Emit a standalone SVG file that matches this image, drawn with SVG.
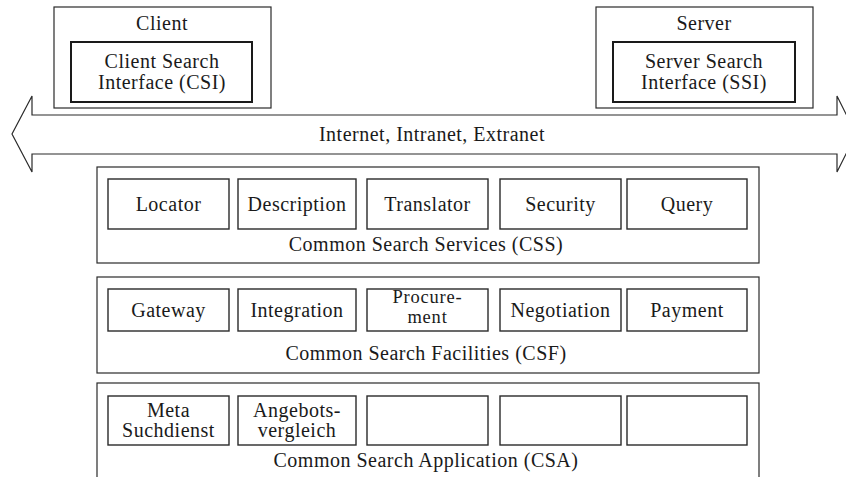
<svg xmlns="http://www.w3.org/2000/svg" width="846" height="477" viewBox="0 0 846 477">
  <style>
    .frame { fill: #ffffff; stroke: #2a2a2a; stroke-width: 1.2; }
    .box { fill: #ffffff; stroke: #2a2a2a; stroke-width: 1.4; }
    .iface { fill: #ffffff; stroke: #1a1a1a; stroke-width: 2; }
    .bus { fill: #ffffff; stroke: #2a2a2a; stroke-width: 1.2; }
    text { font-family: "Liberation Serif", "Times New Roman", serif; font-size: 20px; letter-spacing: 0.5px; fill: #1a1a1a; text-anchor: middle; }
    text.two { font-size: 18.5px; letter-spacing: 0.8px; }
  </style>

  <!-- Network bus: double-headed arrow -->
  <g id="connectors">
    <path class="bus" d="M32,115 L837,115 L837,96 L856,134 L837,172 L837,154 L32,154 L32,172 L12,134 L32,96 Z"/>
    <text x="432" y="141">Internet, Intranet, Extranet</text>
  </g>

  <!-- Client -->
  <g id="client">
    <rect class="frame" x="54" y="7" width="217" height="101"/>
    <text x="162" y="30">Client</text>
  </g>
  <g id="csi">
    <rect class="iface" x="71" y="42" width="181" height="60"/>
    <text x="162" y="68">Client Search</text>
    <text x="162" y="89">Interface (CSI)</text>
  </g>

  <!-- Server -->
  <g id="server">
    <rect class="frame" x="596" y="7" width="217" height="101"/>
    <text x="704" y="30">Server</text>
  </g>
  <g id="ssi">
    <rect class="iface" x="613" y="42" width="182" height="60"/>
    <text x="704" y="68">Server Search</text>
    <text x="704" y="89">Interface (SSI)</text>
  </g>

  <!-- Common Search Services -->
  <g id="css">
    <rect class="frame" x="97" y="167" width="662" height="96"/>
    <text x="426" y="251">Common Search Services (CSS)</text>
  </g>
  <g id="locator"><rect class="box" x="108" y="179" width="121" height="50"/><text x="168.5" y="211">Locator</text></g>
  <g id="description"><rect class="box" x="238" y="179" width="118" height="50"/><text x="297" y="211">Description</text></g>
  <g id="translator"><rect class="box" x="367" y="179" width="121" height="50"/><text x="427.5" y="211">Translator</text></g>
  <g id="security"><rect class="box" x="500" y="179" width="121" height="50"/><text x="560.5" y="211">Security</text></g>
  <g id="query"><rect class="box" x="627" y="179" width="120" height="50"/><text x="687" y="211">Query</text></g>

  <!-- Common Search Facilities -->
  <g id="csf">
    <rect class="frame" x="97" y="277" width="662" height="96"/>
    <text x="426" y="360">Common Search Facilities (CSF)</text>
  </g>
  <g id="gateway"><rect class="box" x="108" y="289" width="121" height="42"/><text x="168.5" y="317">Gateway</text></g>
  <g id="integration"><rect class="box" x="238" y="289" width="118" height="42"/><text x="297" y="317">Integration</text></g>
  <g id="procurement"><rect class="box" x="367" y="289" width="121" height="42"/><text class="two" x="427.5" y="303">Procure-</text><text class="two" x="427.5" y="323">ment</text></g>
  <g id="negotiation"><rect class="box" x="500" y="289" width="121" height="42"/><text x="560.5" y="317">Negotiation</text></g>
  <g id="payment"><rect class="box" x="627" y="289" width="120" height="42"/><text x="687" y="317">Payment</text></g>

  <!-- Common Search Application -->
  <g id="csa">
    <rect class="frame" x="97" y="383" width="662" height="100"/>
    <text x="426" y="467">Common Search Application (CSA)</text>
  </g>
  <g id="meta"><rect class="box" x="108" y="396" width="121" height="49"/><text x="168.5" y="417">Meta</text><text x="168.5" y="437">Suchdienst</text></g>
  <g id="angebot"><rect class="box" x="238" y="396" width="118" height="49"/><text x="297" y="417">Angebots-</text><text x="297" y="437">vergleich</text></g>
  <g id="app3"><rect class="box" x="367" y="396" width="121" height="49"/></g>
  <g id="app4"><rect class="box" x="500" y="396" width="121" height="49"/></g>
  <g id="app5"><rect class="box" x="627" y="396" width="120" height="49"/></g>
</svg>
